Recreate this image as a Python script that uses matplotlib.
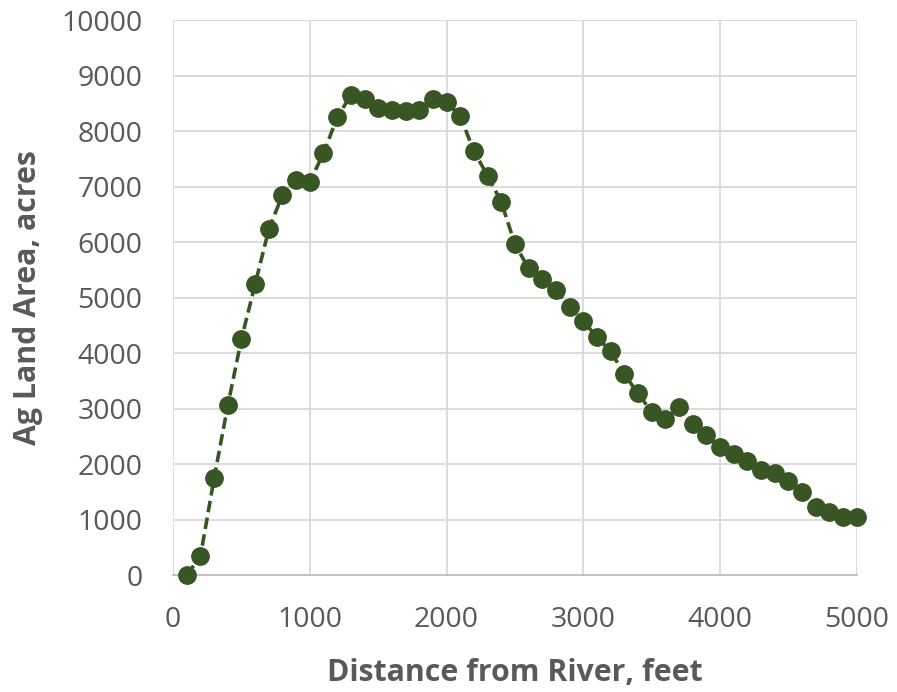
import matplotlib.pyplot as plt

# --- data --------------------------------------------------------------
distance_ft = [100, 200, 300, 400, 500, 600, 700, 800, 900, 1000,
               1100, 1200, 1300, 1400, 1500, 1600, 1700, 1800, 1900, 2000,
               2100, 2200, 2300, 2400, 2500, 2600, 2700, 2800, 2900, 3000,
               3100, 3200, 3300, 3400, 3500, 3600, 3700, 3800, 3900, 4000,
               4100, 4200, 4300, 4400, 4500, 4600, 4700, 4800, 4900, 5000]
ag_area_acres = [0, 340, 1745, 3057, 4255, 5243, 6229, 6853, 7117, 7090,
                 7598, 8247, 8645, 8571, 8409, 8378, 8370, 8378, 8571, 8530,
                 8270, 7640, 7195, 6726, 5964, 5526, 5335, 5135, 4823, 4577,
                 4288, 4036, 3622, 3273, 2943, 2811, 3021, 2721, 2523, 2300,
                 2174, 2060, 1892, 1832, 1700, 1502, 1231, 1135, 1045, 1042]

green = "#375623"
grey_text = "#595959"
grid_col = "#d9d9d9"

plt.rcParams["font.family"] = ["Open Sans", "DejaVu Sans"]

fig = plt.figure(figsize=(8.97, 6.92), dpi=100)
ax = fig.add_axes([0.193, 0.169, 0.762, 0.802])

ax.plot(distance_ft, ag_area_acres, linestyle=(0, (3.2, 1.5)), linewidth=2.6,
        color=green, marker="o", markersize=12.5, zorder=3, clip_on=False)

ax.set_xlim(0, 5000)
ax.set_ylim(0, 10000)
ax.set_xticks(range(0, 5001, 1000))
ax.set_yticks(range(0, 10001, 1000))
ax.grid(True, color=grid_col, linewidth=1.3)
ax.set_axisbelow(True)
for side in ["top", "right", "left"]:
    ax.spines[side].set_visible(False)
ax.spines["bottom"].set_color("#bfbfbf")
ax.spines["bottom"].set_linewidth(1.3)
ax.tick_params(length=0, labelsize=20.5, colors=grey_text)
ax.tick_params(axis="x", pad=22)
ax.tick_params(axis="y", pad=22)

ax.set_xlabel("Distance from River, feet", fontsize=21.8, fontweight="bold",
              color=grey_text, va="center")
ax.set_ylabel("Ag Land Area, acres", fontsize=21.8, fontweight="bold",
              color=grey_text, va="center")
ax.xaxis.set_label_coords(0.5, -0.177)
ax.yaxis.set_label_coords(-0.212, 0.5)

fig.savefig("out.png", dpi=100)
plt.close(fig)
